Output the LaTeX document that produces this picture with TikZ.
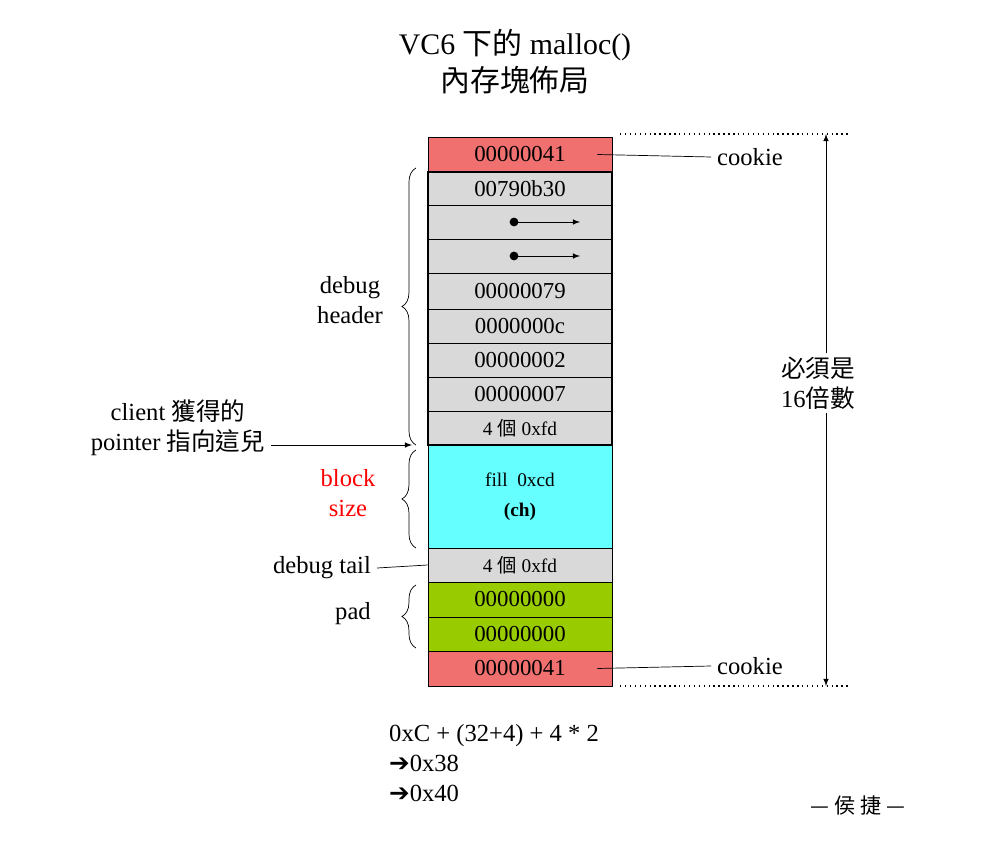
\documentclass[tikz,border=0pt]{standalone}
\usepackage{fontspec}
\setmainfont{Liberation Serif}
\newfontfamily\cjk{Noto Sans CJK TC}
\newfontfamily\sym{DejaVu Sans}
\usetikzlibrary{positioning, decorations.pathreplacing, arrows}
\definecolor{cookiered}{RGB}{240,112,112}
\definecolor{hdrgray}{RGB}{217,217,217}
\definecolor{fillcyan}{RGB}{102,255,255}
\definecolor{padgreen}{RGB}{153,204,0}

\tikzset{
    cell/.style={draw, minimum width=3.68cm, inner sep=0pt, font=\fontsize{13}{15}\selectfont},
    lbl/.style={font=\fontsize{14}{17}\selectfont, align=center},
    brc/.style={decorate, decoration={brace, amplitude=8pt}, thin},
}

\begin{document}
\begin{tikzpicture}[x=0.02cm, y=-0.02cm]
    \useasboundingbox (0,0) rectangle (1001,868);

    % title
    \node [lbl, font=\fontsize{17}{21}\selectfont] (title) at (515,62)
        {VC6 {\cjk 下的} malloc()\\{\cjk 內存塊佈局}};

    % memory cells
    \node [cell, fill=cookiered, minimum height=0.70cm] (ck1) at (520,154.5) {00000041};
    \node [cell, fill=hdrgray, minimum height=0.66cm] (h1) at (520,188.5) {00790b30};
    \node [cell, fill=hdrgray, minimum height=0.68cm] (h2) at (520,222) {};
    \node [cell, fill=hdrgray, minimum height=0.68cm] (h3) at (520,256) {};
    \node [cell, fill=hdrgray, minimum height=0.72cm] (h4) at (520,291) {00000079};
    \node [cell, fill=hdrgray, minimum height=0.68cm] (h5) at (520,326) {0000000c};
    \node [cell, fill=hdrgray, minimum height=0.68cm] (h6) at (520,360) {00000002};
    \node [cell, fill=hdrgray, minimum height=0.68cm] (h7) at (520,394) {00000007};
    \node [cell, fill=hdrgray, minimum height=0.68cm, font=\fontsize{11}{13}\selectfont] (h8) at (520,428) {4 {\cjk 個} 0xfd};
    \node [cell, fill=fillcyan, minimum height=2.06cm, align=center, font=\fontsize{11}{15}\selectfont] (blk) at (520,496.5) {fill \ 0xcd\\[2pt]\textbf{(ch)}};
    \node [cell, fill=hdrgray, minimum height=0.68cm, font=\fontsize{11}{13}\selectfont] (tail) at (520,565) {4 {\cjk 個} 0xfd};
    \node [cell, fill=padgreen, minimum height=0.70cm] (p1) at (520,599.5) {00000000};
    \node [cell, fill=padgreen, minimum height=0.68cm] (p2) at (520,634) {00000000};
    \node [cell, fill=cookiered, minimum height=0.70cm] (ck2) at (520,668.5) {00000041};

    \draw [very thick] (h1.north west) rectangle (h8.south east);

    % pointers in header
    \foreach \c in {h2, h3} {
        \fill ([xshift=-0.12cm]\c.center) circle (2.5pt);
        \draw [-latex] ([xshift=-0.12cm]\c.center) -- ([xshift=1.2cm]\c.center);
    }

    % cookies
    \node [lbl] (cl1) at (750,157) {cookie};
    \node [lbl] (cl2) at (750,666) {cookie};
    \draw ([xshift=-0.3cm]ck1.center -| ck1.east) -- (cl1.west);
    \draw ([xshift=-0.3cm]ck2.center -| ck2.east) -- (cl2.west);

    % size bracket
    \coordinate (st) at (826,134);
    \coordinate (sb) at (826,686);
    \draw [dotted, thick] (620,134) -- (850,134);
    \draw [dotted, thick] (620,686) -- (850,686);
    \draw [latex-latex] (st) -- (sb);
    \node [lbl, fill=white, inner sep=2pt] (mul) at (818,383) {{\cjk 必須是}\\16{\cjk 倍數}};

    % braces
    \draw [brc] (416,445) -- (416,168);
    \node [lbl] (dh) at (350,300) {debug\\header};
    \draw [brc] (416,548) -- (416,450);
    \node [lbl, text=red] (bs) at (348,493) {block\\size};
    \draw [brc] (416,648) -- (416,585);
    \node [lbl] (pad) at (353,614) {pad};
    \node [lbl] (dt) at (322,568) {debug tail};
    \draw (dt.east) -- (tail.west);

    % client pointer
    \node [lbl] (cli) at (178,428) {client {\cjk 獲得的}\\pointer {\cjk 指向這兒}};
    \draw [-latex] (cli.east |- 0,445) -- (412,445);

    % formula
    \node [lbl, align=left, anchor=north west] (calc) at (383,718)
        {0xC + (32+4) + 4 * 2\\{\sym ➔}0x38\\{\sym ➔}0x40};
    \node [lbl, font=\fontsize{12}{14}\selectfont] (auth) at (858,806) {{\cjk — 侯 捷 —}};
\end{tikzpicture}
\end{document}
